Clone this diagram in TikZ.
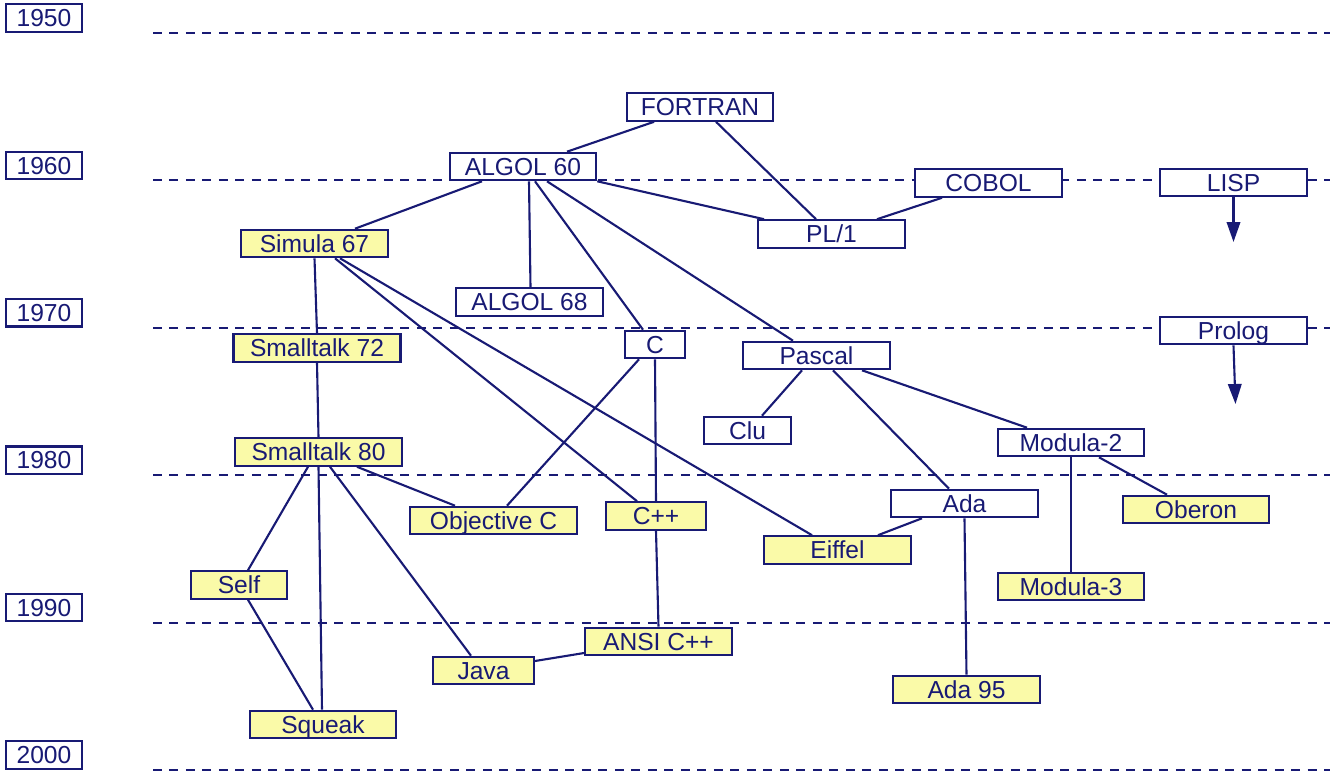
\documentclass[tikz,border=0pt]{standalone}
\usepackage{fontspec}
\setmainfont{Liberation Sans}
\usetikzlibrary{arrows.meta}
\definecolor{langnavy}{RGB}{24,26,116}
\definecolor{langyellow}{RGB}{250,250,168}
\providecommand{\langLineWidth}{1.2pt}
\providecommand{\langBoxWidth}{2.93cm}
\tikzset{
  langbox/.style={draw=langnavy, fill=white, text=langnavy, line width=\langLineWidth,
    minimum width=\langBoxWidth, minimum height=0.55cm, inner sep=0pt,
    text height=10pt, text depth=0pt, font=\fontsize{14}{16}\selectfont},
  oobox/.style={langbox, fill=langyellow},
  yearbox/.style={langbox, minimum width=1.52cm},
  link/.style={draw=langnavy, line width=\langLineWidth},
  epochline/.style={draw=langnavy, line width=\langLineWidth, dash pattern=on 0.18cm off 0.15cm},
}
\begin{document}
\begin{tikzpicture}
\begin{scope}[x=0.02cm, y=-0.02cm]
  \useasboundingbox (0,0) rectangle (1340,780);
  % Decades: dashed line with a year label
  \foreach \yr in {1950,1960,...,2000}{
    \pgfmathsetmacro{\liney}{33+147.4*(\yr-1950)/10}
    \draw[epochline] (153,\liney) -- (1330,\liney);
    \node[yearbox] (year\yr) at (44,\liney-15) {\yr};
  }
  % Languages
  \node[langbox] (fortran) at (700,107) {FORTRAN};
  \node[langbox] (algolsixty) at (523,166.5) {ALGOL 60};
  \node[langbox] (cobol) at (988.5,183) {COBOL};
  \node[langbox] (lisp) at (1233.5,182.5) {LISP};
  \node[langbox] (plone) at (831.5,234) {PL/1};
  \node[oobox] (simula) at (314.5,243.5) {Simula 67};
  \node[langbox] (algolsixtyeight) at (529.5,302) {ALGOL 68};
  \node[langbox, minimum width=1.2cm] (c) at (655,344.5) {C};
  \node[langbox] (pascal) at (816.5,355.5) {Pascal};
  \node[langbox] (prolog) at (1233.5,330.5) {Prolog};
  \node[oobox, minimum width=3.34cm] (stseventytwo) at (317,348) {Smalltalk 72};
  \node[langbox, minimum width=1.74cm] (clu) at (747.5,430.5) {Clu};
  \node[langbox] (modulatwo) at (1071,442.5) {Modula-2};
  \node[oobox, minimum width=3.34cm] (steighty) at (318.5,452) {Smalltalk 80};
  \node[oobox, minimum width=3.34cm] (objc) at (493.5,520.5) {Objective C};
  \node[oobox, minimum width=2cm] (cpp) at (656,516) {C++};
  \node[langbox] (ada) at (964.5,503.5) {Ada};
  \node[oobox] (oberon) at (1196,509.5) {Oberon};
  \node[oobox] (eiffel) at (837.5,550) {Eiffel};
  \node[oobox, minimum width=1.92cm] (self) at (239,585) {Self};
  \node[oobox] (modulathree) at (1071,586.5) {Modula-3};
  \node[oobox] (ansicpp) at (658.5,641.5) {ANSI C++};
  \node[oobox, minimum width=2.02cm] (java) at (483.5,670.5) {Java};
  \node[oobox] (adaninetyfive) at (966.5,689.5) {Ada 95};
  \node[oobox] (squeak) at (323,724.5) {Squeak};
  % Open ends of the LISP and Prolog lines
  \coordinate (lispend) at (1233.5,242);
  \coordinate (prologend) at (1235.5,404);
  % Influences
  \draw[link] ([xshift=-0.92cm]fortran.south) -- ([xshift=0.88cm]algolsixty.north);
  \draw[link] ([xshift=0.32cm]fortran.south) -- ([xshift=-0.31cm]plone.north);
  \draw[link] (algolsixty.south east) -- ([xshift=-1.35cm]plone.north);
  \draw[link] ([xshift=-0.93cm]cobol.south) -- ([xshift=0.91cm]plone.north);
  \draw[link] ([xshift=-0.82cm]algolsixty.south) -- ([xshift=0.81cm]simula.north);
  \draw[link] ([xshift=0.12cm]algolsixty.south) -- ([xshift=0.02cm]algolsixtyeight.north);
  \draw[link] ([xshift=0.24cm]algolsixty.south) -- ([xshift=-0.24cm]c.north);
  \draw[link] ([xshift=0.48cm]algolsixty.south) -- ([xshift=-0.47cm]pascal.north);
  \draw[link] (simula.south) -- (stseventytwo.north);
  \draw[link] ([xshift=0.41cm]simula.south) -- ([xshift=-0.38cm]cpp.north);
  \draw[link] ([xshift=0.51cm]simula.south) -- ([xshift=-0.51cm]eiffel.north);
  \draw[link] (stseventytwo.south) -- (steighty.north);
  \draw[link] ([xshift=-0.32cm]c.south) -- ([xshift=0.27cm]objc.north);
  \draw[link] (c.south) -- (cpp.north);
  \draw[link] ([xshift=-0.29cm]pascal.south) -- ([xshift=0.29cm]clu.north);
  \draw[link] ([xshift=0.33cm]pascal.south) -- ([xshift=-0.31cm]ada.north);
  \draw[link] ([xshift=0.91cm]pascal.south) -- ([xshift=-0.88cm]modulatwo.north);
  \draw[link] ([xshift=0.77cm]steighty.south) -- ([xshift=-0.77cm]objc.north);
  \draw[link] ([xshift=-0.21cm]steighty.south) -- ([xshift=0.18cm]self.north);
  \draw[link] (steighty.south) -- ([xshift=-0.02cm]squeak.north);
  \draw[link] ([xshift=0.23cm]steighty.south) -- ([xshift=-0.25cm]java.north);
  \draw[link] ([xshift=0.18cm]self.south) -- ([xshift=-0.2cm]squeak.north);
  \draw[link] (cpp.south) -- (ansicpp.north);
  \draw[link] ([yshift=0.19cm]java.east) -- ([yshift=-0.23cm]ansicpp.west);
  \draw[link] ([xshift=-0.85cm]ada.south) -- ([xshift=0.81cm]eiffel.north);
  \draw[link] (ada.south) -- (adaninetyfive.north);
  \draw[link] (modulatwo.south) -- (modulathree.north);
  \draw[link] ([xshift=0.56cm]modulatwo.south) -- ([xshift=-0.58cm]oberon.north);
  \draw[link, -{Triangle[width=0.27cm, length=0.4cm]}] (lisp.south) -- (lispend);
  \draw[link, -{Triangle[width=0.27cm, length=0.4cm]}] (prolog.south) -- (prologend);
\end{scope}
\end{tikzpicture}
\end{document}
